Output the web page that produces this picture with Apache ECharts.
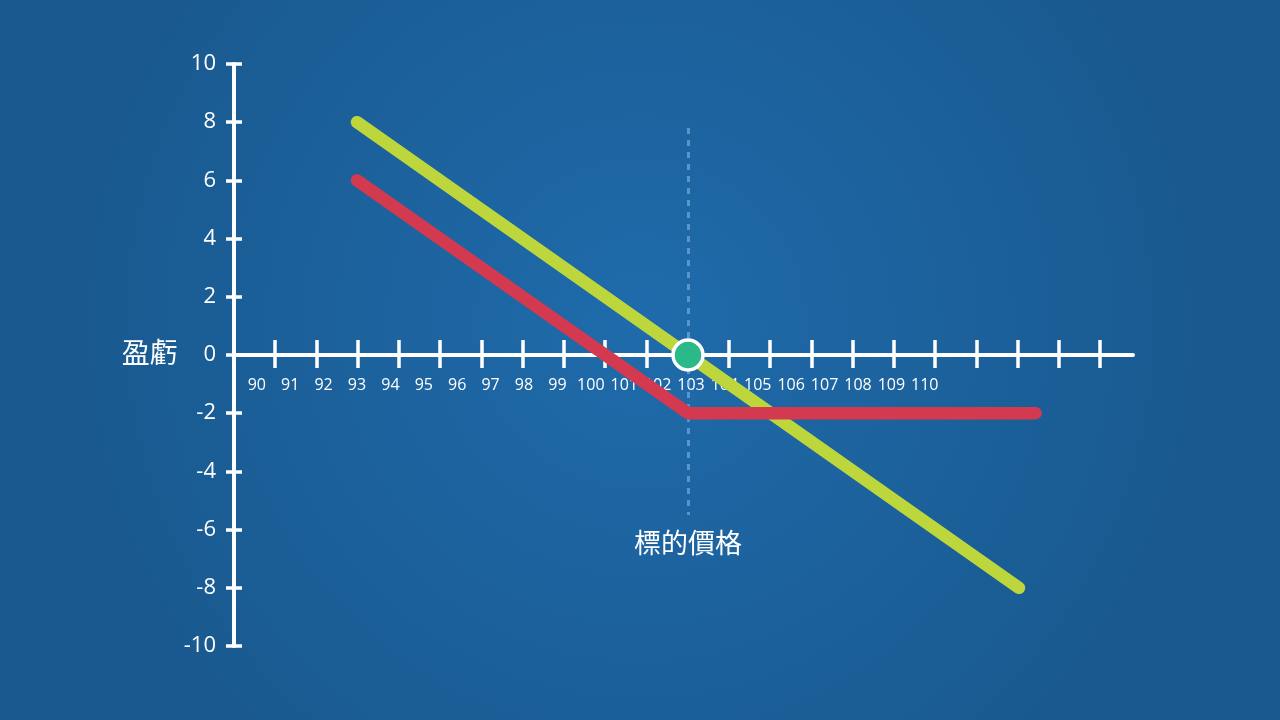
<!DOCTYPE html>
<html>
<head>
<meta charset="utf-8">
<script src="https://cdn.jsdelivr.net/npm/echarts@6/dist/echarts.min.js"></script>
<style>
  html, body { margin: 0; padding: 0; }
  #main { width: 1280px; height: 720px; }
</style>
</head>
<body>
<div id="main"></div>
<script>
// 标签和数据
var priceLabels = [90, 91, 92, 93, 94, 95, 96, 97, 98, 99, 100, 101, 102, 103, 104, 105, 106, 107, 108, 109, 110];
var tickIdx = [1, 2, 3, 4, 5, 6, 7, 8, 9, 10, 11, 12, 13, 14, 15, 16, 17, 18, 19, 20, 21];
var greenPrice = [93, 113];
var greenPnl = [8, -8];
var redPrice = [93, 103, 113.5];
var redPnl = [6, -2, -2];
var strikePrice = 103;
var strikePnl = 0;
var strikeLine = [7.8, -5.5];

(function() {
  var myChart = echarts.init(document.getElementById("main"));
  var font = '"Open Sans", "Noto Sans CJK TC", sans-serif';

  function pairs(xs, ys) {
    return xs.map(function(x, i) { return [x, ys[i]]; });
  }

  var option = {
    animation: false,
    backgroundColor: {
      type: "radial", x: 0.5, y: 0.45, r: 0.8,
      colorStops: [
        { offset: 0, color: "#1f6bab" },
        { offset: 1, color: "#19598f" }
      ]
    },
    textStyle: { fontFamily: font },
    grid: { left: 234, right: 147, top: 64, bottom: 74, containLabel: false },
    xAxis: [
      {
        // 数据用的价格轴 + 主线 (放在 0 的位置)
        type: "value",
        min: 89.284,
        max: 116.444,
        position: "bottom",
        offset: -291,
        axisLine: { show: true, onZero: false, lineStyle: { color: "#fff", width: 4 } },
        axisTick: { show: false },
        axisLabel: { show: false },
        splitLine: { show: false }
      },
      {
        // 刻度轴（两边的刻度）
        type: "value",
        min: 0,
        max: 21.8,
        position: "bottom",
        offset: -278,
        axisLine: { show: false, onZero: false },
        axisTick: {
          show: true,
          inside: true,
          length: 28,
          customValues: tickIdx,
          lineStyle: { color: "#fff", width: 3.5 }
        },
        axisLabel: { show: false },
        splitLine: { show: false }
      },
      {
        // 价格标签
        type: "value",
        min: 89.317,
        max: 116.234,
        position: "bottom",
        offset: -291,
        axisLine: { show: false, onZero: false },
        axisTick: { show: false },
        splitLine: { show: false },
        axisLabel: {
          customValues: priceLabels,
          color: "#fff",
          fontSize: 16,
          fontFamily: font,
          margin: 22
        }
      }
    ],
    yAxis: [
      {
        type: "value",
        min: -10,
        max: 10,
        interval: 2,
        name: "盈虧",
        nameLocation: "middle",
        nameRotate: 0,
        nameGap: 55,
        nameTextStyle: { color: "#fff", fontSize: 28, fontFamily: font },
        axisLine: { show: true, onZero: false, lineStyle: { color: "#fff", width: 4 } },
        axisTick: { show: false },
        splitLine: { show: false },
        axisLabel: { color: "#fff", fontSize: 22, fontFamily: font, margin: 18 }
      },
      {
        type: "value",
        min: -10,
        max: 10,
        interval: 2,
        position: "left",
        offset: -8,
        axisLine: { show: false, onZero: false },
        axisTick: { show: true, length: 16, lineStyle: { color: "#fff", width: 3.5 } },
        axisLabel: { show: false },
        splitLine: { show: false }
      }
    ],
    series: [
      {
        name: "green",
        type: "line",
        xAxisIndex: 0,
        yAxisIndex: 0,
        zlevel: 1,
        data: pairs(greenPrice, greenPnl),
        symbol: "none",
        lineStyle: { color: "#bcd63c", width: 12.5, cap: "round", join: "round" },
        z: 3
      },
      {
        name: "red",
        type: "line",
        xAxisIndex: 0,
        yAxisIndex: 0,
        zlevel: 1,
        data: pairs(redPrice, redPnl),
        symbol: "none",
        lineStyle: { color: "#d33a4f", width: 12.5, cap: "round", join: "round" },
        z: 4,
        markLine: {
          silent: true,
          symbol: "none",
          lineStyle: { color: "rgba(130,180,225,0.6)", type: [6, 6], width: 3 },
          label: {
            show: true,
            position: "end",
            distance: 17,
            formatter: "標的價格",
            color: "#fff",
            fontSize: 27,
            fontFamily: font
          },
          data: [[{ coord: [strikePrice, strikeLine[0]] }, { coord: [strikePrice, strikeLine[1]] }]]
        }
      },
      {
        name: "strike",
        type: "scatter",
        xAxisIndex: 0,
        yAxisIndex: 0,
        zlevel: 1,
        data: [[strikePrice, strikePnl]],
        symbolSize: 30,
        itemStyle: { color: "#2cb98a", borderColor: "#fff", borderWidth: 3.5, opacity: 1 },
        z: 6
      }
    ]
  };

  myChart.setOption(option);
  window.addEventListener("resize", function() {
    myChart.resize();
  });
})();
</script>
</body>
</html>
